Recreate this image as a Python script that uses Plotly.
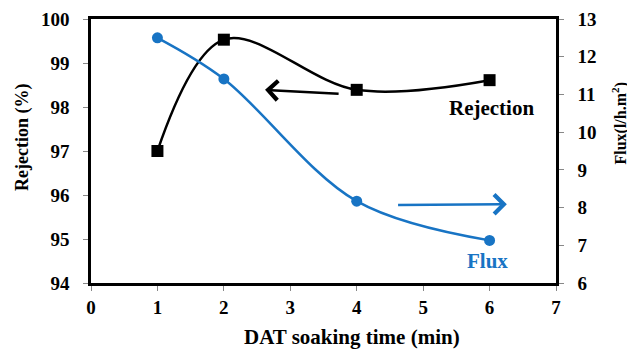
import plotly.graph_objects as go

soak_time = [1, 2, 4, 6]
rejection = [97.0, 99.53, 98.39, 98.61]
flux = [12.50, 11.41, 8.17, 7.13]

x_ticks = [0, 1, 2, 3, 4, 5, 6, 7]
rej_ticks = [94, 95, 96, 97, 98, 99, 100]
flux_ticks = [6, 7, 8, 9, 10, 11, 12, 13]

BLUE = "#1874C4"
FONT = "Liberation Serif"

fig = go.Figure()
fig.add_trace(go.Scatter(
    x=soak_time, y=rejection, mode="lines+markers", line_shape="spline",
    line=dict(color="black", width=2.5),
    marker=dict(symbol="square", size=12, color="black"),
    showlegend=False, yaxis="y"))
fig.add_trace(go.Scatter(
    x=soak_time, y=flux, mode="lines+markers", line_shape="spline",
    line=dict(color=BLUE, width=2.5),
    marker=dict(symbol="circle", size=11, color=BLUE),
    showlegend=False, yaxis="y2"))

tickfont = dict(family=FONT, size=19, color="black", weight="bold")
common = dict(showgrid=False, zeroline=False, showline=True, linecolor="black",
              linewidth=2.5, ticks="outside", ticklen=5, tickcolor="#888",
              tickfont=tickfont, automargin=False)
fig.update_layout(
    width=627, height=345,
    margin=dict(l=83, r=79, t=11, b=70),
    paper_bgcolor="white", plot_bgcolor="white",
    font=dict(family=FONT, color="black"),
    xaxis=dict(range=[0, 7], tickvals=x_ticks, mirror=True, **common),
    yaxis=dict(range=[94, 100], tickvals=rej_ticks, ticklabelstandoff=10, **common),
    yaxis2=dict(range=[6, 13], tickvals=flux_ticks, overlaying="y", side="right",
                ticklabelstandoff=10, **common),
    annotations=[
        dict(x=2.62, y=98.39, ax=3.75, ay=98.30, xref="x", yref="y", axref="x", ayref="y",
             showarrow=True, arrowhead=4, arrowsize=1.5, arrowwidth=2.5, arrowcolor="black", text=""),
        dict(x=6.26, y=8.09, ax=4.60, ay=8.07, xref="x", yref="y2", axref="x", ayref="y2",
             showarrow=True, arrowhead=4, arrowsize=1.5, arrowwidth=2.5, arrowcolor=BLUE, text=""),
        dict(x=6.03, y=97.98, xref="x", yref="y", showarrow=False,
             text="<b>Rejection</b>", font=dict(family=FONT, size=21, color="black")),
        dict(x=5.97, y=6.59, xref="x", yref="y2", showarrow=False,
             text="<b>Flux</b>", font=dict(family=FONT, size=21, color=BLUE)),
        dict(x=0.561, y=-0.205, xref="paper", yref="paper", showarrow=False,
             xanchor="center", yanchor="middle",
             text="<b>DAT soaking time (min)</b>", font=dict(family=FONT, size=21)),
        dict(x=-0.146, y=0.55, xref="paper", yref="paper", showarrow=False, textangle=-90,
             xanchor="center", yanchor="middle",
             text="<b>Rejection (%)</b>", font=dict(family=FONT, size=18)),
        dict(x=1.136, y=0.605, xref="paper", yref="paper", showarrow=False, textangle=-90,
             xanchor="center", yanchor="middle",
             text="<b>Flux(l/h.m<sup>2</sup>)</b>", font=dict(family=FONT, size=16)),
    ],
)

fig.write_html("out.html")
